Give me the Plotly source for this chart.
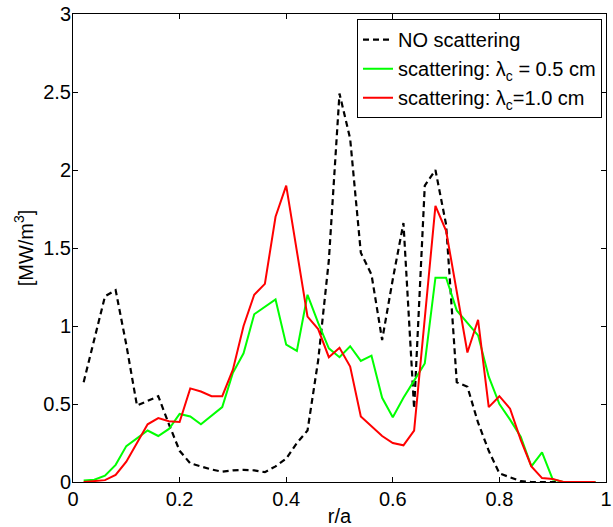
import plotly.graph_objects as go

r = [0.02, 0.04, 0.06, 0.08, 0.10, 0.12, 0.14, 0.16, 0.18, 0.20,
     0.22, 0.24, 0.26, 0.28, 0.30, 0.32, 0.34, 0.36, 0.38, 0.40,
     0.42, 0.44, 0.46, 0.48, 0.50, 0.52, 0.54, 0.56, 0.58, 0.60,
     0.62, 0.64, 0.66, 0.68, 0.70, 0.72, 0.74, 0.76, 0.78, 0.80,
     0.82, 0.84, 0.86, 0.88, 0.90, 0.92, 0.94, 0.96, 0.98]

no_scatter = [0.64, 0.92, 1.19, 1.23, 0.88, 0.49, 0.52, 0.55, 0.37, 0.20,
              0.12, 0.10, 0.08, 0.066, 0.075, 0.078, 0.075, 0.063, 0.10, 0.15,
              0.25, 0.33, 0.78, 1.42, 2.49, 2.20, 1.47, 1.33, 0.91, 1.30,
              1.66, 0.47, 1.90, 2.00, 1.65, 0.64, 0.61, 0.38, 0.20, 0.055,
              0.03, 0.005, 0.0, 0.0, 0.0, 0.0, 0.0, 0.0, 0.0]

scat_05 = [0.01, 0.015, 0.04, 0.11, 0.23, 0.28, 0.33, 0.295, 0.34, 0.436,
           0.42, 0.37, 0.425, 0.48, 0.70, 0.825, 1.075, 1.125, 1.17, 0.88,
           0.84, 1.20, 1.02, 0.857, 0.80, 0.87, 0.776, 0.81, 0.54, 0.415,
           0.54, 0.65, 0.76, 1.31, 1.31, 1.10, 1.02, 0.94, 0.675, 0.50,
           0.40, 0.29, 0.10, 0.19, 0.017, 0.0, 0.0, 0.0, 0.0]

scat_10 = [0.0, 0.005, 0.012, 0.045, 0.13, 0.25, 0.37, 0.41, 0.39, 0.385,
           0.60, 0.58, 0.55, 0.55, 0.72, 1.00, 1.20, 1.27, 1.70, 1.90,
           1.48, 1.06, 0.98, 0.80, 0.86, 0.74, 0.42, 0.355, 0.295, 0.25,
           0.235, 0.33, 1.05, 1.77, 1.61, 1.21, 0.83, 1.04, 0.48, 0.55,
           0.47, 0.27, 0.10, 0.025, 0.02, 0.0, 0.0, 0.0, 0.0]

x_ticks = [0, 0.2, 0.4, 0.6, 0.8, 1]
x_labels = ["0", "0.2", "0.4", "0.6", "0.8", "1"]
y_ticks = [0, 0.5, 1, 1.5, 2, 2.5, 3]
y_labels = ["0", "0.5", "1", "1.5", "2", "2.5", "3"]

FONT = "Liberation Sans, Arial, Helvetica, sans-serif"
FS = 20

fig = go.Figure()
fig.add_trace(go.Scatter(x=r, y=no_scatter, mode="lines", name="NO scattering",
                         line=dict(color="black", width=2.2, dash="6px,4px")))
fig.add_trace(go.Scatter(x=r, y=scat_05, mode="lines",
                         name="scattering: λ<sub>c</sub> = 0.5 cm",
                         line=dict(color="#00ff00", width=2)))
fig.add_trace(go.Scatter(x=r, y=scat_10, mode="lines",
                         name="scattering: λ<sub>c</sub>=1.0 cm",
                         line=dict(color="#ff0000", width=2)))

axis_common = dict(showline=True, linecolor="black", linewidth=1, mirror="ticks",
                   ticks="inside", ticklen=5, tickcolor="black", tickwidth=1,
                   showgrid=False, zeroline=False, ticklabeloverflow="allow",
                   automargin=False,
                   tickfont=dict(family=FONT, size=FS, color="black"))

fig.update_xaxes(range=[0, 1], tickvals=x_ticks, ticktext=x_labels,
                 title=dict(text="r/a", font=dict(family=FONT, size=FS, color="black"), standoff=0),
                 ticklabelstandoff=-1,
                 **axis_common)
fig.update_yaxes(range=[0, 3], tickvals=y_ticks, ticktext=y_labels,
                 title=dict(text="[MW/m<sup>3</sup>]", font=dict(family=FONT, size=FS, color="black"), standoff=4),
                 ticklabelstandoff=-3,
                 **axis_common)

fig.update_layout(
    width=613, height=527,
    margin=dict(l=73, r=7, t=14, b=45),
    paper_bgcolor="white", plot_bgcolor="white",
    font=dict(family=FONT, size=FS, color="black"),
    showlegend=True,
    legend=dict(x=0.9925, y=0.989, xanchor="right", yanchor="top",
                bgcolor="white", bordercolor="black", borderwidth=1,
                font=dict(family=FONT, size=FS, color="black"),
                tracegroupgap=0, itemwidth=30),
)

fig.write_html("out.html")
